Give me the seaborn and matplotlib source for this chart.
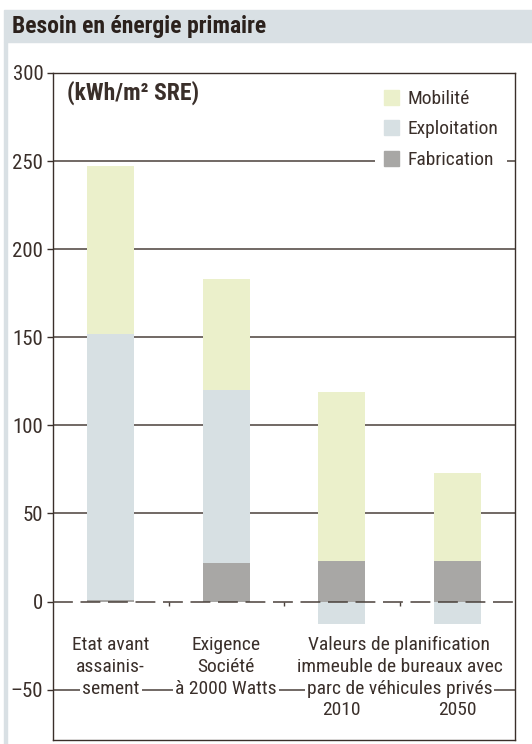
import numpy as np
import pandas as pd
import matplotlib
matplotlib.use("Agg")
import matplotlib.pyplot as plt
from matplotlib.patches import Patch, Rectangle
import seaborn as sns

# chart values (kWh/m2 SRE)
categories = ["Etat avant", "Exigence", "Plan 2010", "Plan 2050"]
fabrication = [1, 22, 23, 23]
exploitation = [151, 98, -13, -13]
mobilite = [95, 63, 96, 50]

cat_labels = [
    ["Etat avant", "assainis-", "sement"],
    ["Exigence", "Société", "à 2000 Watts"],
    ["", "", "", "2010"],
    ["", "", "", "2050"],
]
span_label = ["Valeurs de planification", "immeuble de bureaux avec", "parc de véhicules privés"]
yticks = [-50, 0, 50, 100, 150, 200, 250, 300]

c_mob = "#ebf0cb"
c_exp = "#d7e0e3"
c_fab = "#a8a7a5"
c_txt = "#3a2f2a"
c_head = "#d9e0e4"

sns.set_style("white")
plt.rcParams["font.family"] = ["Roboto Condensed", "DejaVu Sans"]

fig = plt.figure(figsize=(5.32, 7.44), dpi=100)
ax = fig.add_axes([53 / 532, 1 - 740 / 744, 462 / 532, 667 / 744])

# header band and left strip
fig.patches.append(Rectangle((4 / 532, 1 - 42 / 744), 528 / 532, 32 / 744,
                             transform=fig.transFigure, color=c_head, zorder=0))
fig.patches.append(Rectangle((4 / 532, 0), 3 / 532, 1 - 42 / 744,
                             transform=fig.transFigure, color=c_head, zorder=0))
fig.text(12 / 532, 1 - 27 / 744, "Besoin en énergie primaire", fontsize=17,
         fontweight="bold", color="#2b211c", va="center", ha="left")

df = pd.DataFrame({
    "cat": categories,
    "fab": fabrication,
    "exp": exploitation,
    "mob": mobilite,
})
df["exp_pos"] = df["exp"].clip(lower=0)
df["exp_neg"] = df["exp"].clip(upper=0)
df["top_exp"] = df["fab"] + df["exp_pos"]
df["top_mob"] = df["top_exp"] + df["mob"]

w = 0.41
sns.barplot(data=df, x="cat", y="top_mob", color=c_mob, saturation=1, width=w,
            errorbar=None, ax=ax, zorder=2)
sns.barplot(data=df, x="cat", y="top_exp", color=c_exp, saturation=1, width=w,
            errorbar=None, ax=ax, zorder=2)
sns.barplot(data=df, x="cat", y="fab", color=c_fab, saturation=1, width=w,
            errorbar=None, ax=ax, zorder=2)
sns.barplot(data=df, x="cat", y="exp_neg", color=c_exp, saturation=1, width=w,
            errorbar=None, ax=ax, zorder=2)
for p in ax.patches:
    p.set_edgecolor("none")

ax.set_xlim(-0.5, len(categories) - 0.5)
ax.set_ylim(-78.6, 300)
ax.set_xlabel("")
ax.set_ylabel("")
ax.set_xticks([])
ax.set_yticks(yticks)
ax.set_yticklabels([str(t).replace("-", "\u2013") for t in yticks])
ax.tick_params(axis="y", length=4, width=1, color=c_txt, labelcolor=c_txt,
               labelsize=15, pad=3, left=True)

# grid lines behind bars
for t in yticks:
    if t not in (0, 300):
        ax.axhline(t, color="#4a403a", lw=1.1, zorder=0.5)
ax.axhline(0, color="#4a403a", lw=1.1, dashes=(13, 5), zorder=3)
ax.vlines(np.arange(len(categories) - 1) + 0.5, -2.4, 0, color="#4a403a", lw=1, zorder=3)

for s in ax.spines.values():
    s.set_visible(True)
    s.set_color(c_txt)
    s.set_linewidth(1)

# category labels with white background
line_y = [-24.7, -37.2, -49.5, -61.7]
for i, lines in enumerate(cat_labels):
    for j, ln in enumerate(lines):
        if ln:
            ax.text(i, line_y[j], ln, ha="center", va="center", fontsize=14,
                    color=c_txt, zorder=4,
                    bbox=dict(facecolor="white", edgecolor="none", pad=1.5))
for j, ln in enumerate(span_label):
    ax.text(2.5, line_y[j], ln, ha="center", va="center", fontsize=14,
            color=c_txt, zorder=4,
            bbox=dict(facecolor="white", edgecolor="none", pad=1.5))

ax.text(0.03, 0.97, "(kWh/m² SRE)", transform=ax.transAxes, fontsize=17,
        fontweight="bold", color=c_txt, va="center", ha="left")

handles = [Patch(color=c_mob, label="Mobilité"),
           Patch(color=c_exp, label="Exploitation"),
           Patch(color=c_fab, label="Fabrication")]
leg = ax.legend(handles=handles, loc="upper right", bbox_to_anchor=(0.983, 0.988),
                borderaxespad=0, frameon=True, facecolor="white", edgecolor="none",
                framealpha=1, fontsize=14, handlelength=0.8, handleheight=0.8,
                handletextpad=0.42, labelspacing=0.63, borderpad=0.45, fancybox=False)
leg.set_zorder(5)
for t in leg.get_texts():
    t.set_color(c_txt)

fig.savefig("out.png", dpi=100)
